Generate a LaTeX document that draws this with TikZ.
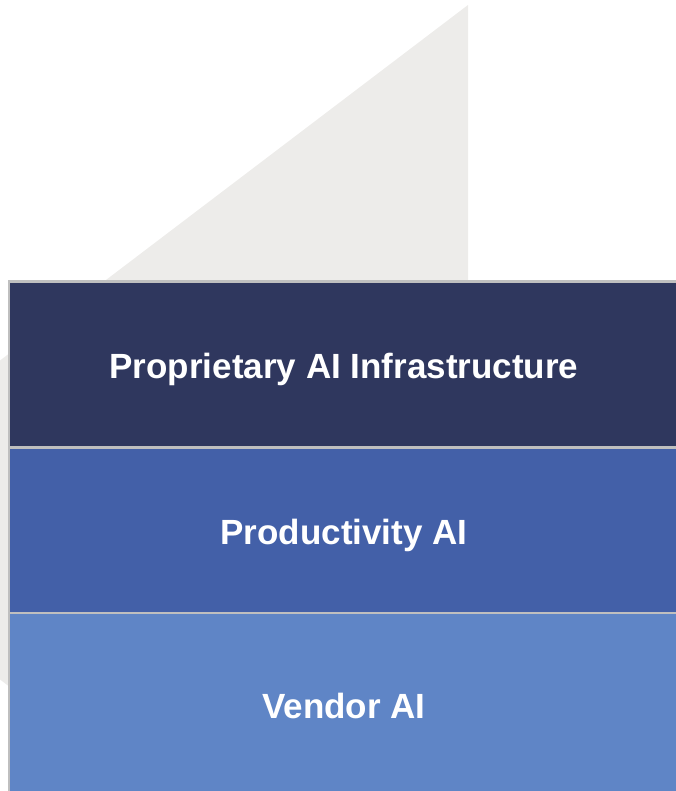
\documentclass[tikz,border=0pt]{standalone}
\usepackage{fontspec}
\usepackage{tikz, tkz-euclide, xcolor}
\newfontfamily\layerfont{Liberation Sans}
\definecolor{bggrey}{HTML}{EDECEA}
\definecolor{edgegrey}{HTML}{BFBFBF}
\definecolor{infranavy}{HTML}{2F375E}
\definecolor{prodblue}{HTML}{4360A8}
\definecolor{vendorblue}{HTML}{5F85C6}
\tikzset{layer/.style = {draw = edgegrey, line width = 2.5pt, minimum width = 670pt,
  inner sep = 0pt, text = white, text height = 36pt, text depth = 7pt,
  font = \layerfont\bfseries\fontsize{35}{42}\selectfont}}

\begin{document}
\begin{tikzpicture}[x = 1pt, y = -1pt]
\useasboundingbox (0,0) rectangle (676,791);
\clip (0,0) rectangle (676,791);
\tkzDefPoints{468/5/T, 468/1035/B, -210/520/L}
\tkzFillPolygon[fill = bggrey, draw = none](T,B,L)
\node[layer, fill = vendorblue, minimum height = 182pt] (vendor) at (344,704) {Vendor AI};
\node[layer, fill = prodblue, minimum height = 165.7pt] (prod) at (344,530.15) {Productivity AI};
\node[layer, fill = infranavy, minimum height = 165.8pt] (infra) at (344,364.4) {Proprietary AI Infrastructure};
\end{tikzpicture}
\end{document}
